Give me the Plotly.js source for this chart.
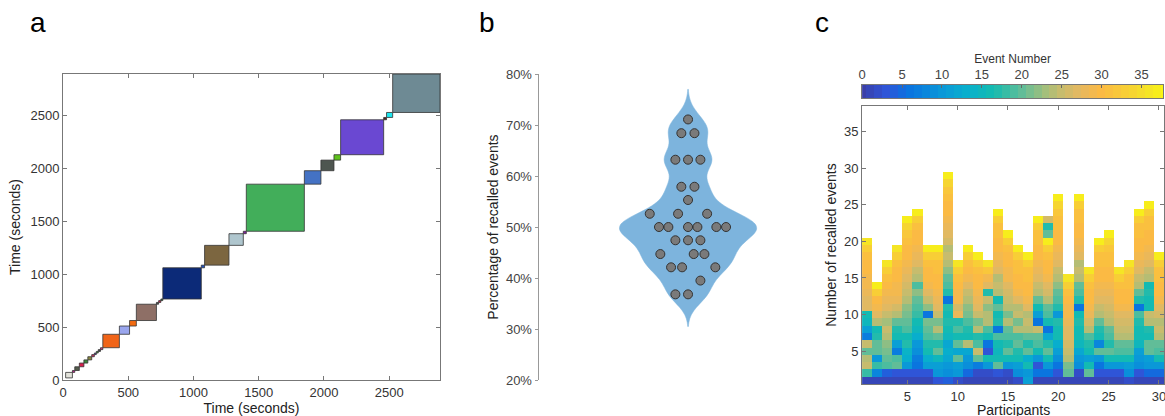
<!DOCTYPE html>
<html>
<head>
<meta charset="utf-8">
<script src="https://cdn.plot.ly/plotly-3.0.1.min.js"></script>
<style>
html,body{margin:0;padding:0;background:#fff;}
#chart{width:1165px;height:416px;}
</style>
</head>
<body>
<div id="chart"></div>
<script>
// ---------- Panel a: event boundaries (seconds) ----------
const eventStart = [20, 72, 90, 125, 160, 190, 220, 240, 255, 270, 287, 305, 432, 510, 562, 716, 733, 750, 765, 1060, 1085, 1272, 1382, 1405, 1850, 1977, 2077, 2128, 2458, 2480, 2527];
const eventEnd   = [72, 90, 125, 160, 190, 220, 240, 255, 270, 287, 305, 432, 510, 562, 716, 733, 750, 765, 1060, 1085, 1272, 1382, 1405, 1850, 1977, 2077, 2128, 2458, 2480, 2527, 2890];
const eventColors = ['#E2E2DA', '#C0208A', '#545C4C', '#D4204C', '#3A8A3A', '#8A8A40', '#D03060', '#6040A0', '#40A040', '#444444', '#E03080',
  '#F06418', '#9AA6EE', '#F26A10', '#8E6F66', '#505050', '#D42050', '#2E6A3A', '#0C2A78', '#2050C0', '#7C6640', '#AFC6CE', '#8020A0',
  '#42AE5A', '#4472C4', '#4E5650', '#5EC21C', '#6A48D2', '#502020', '#1EE6EE', '#6E8A94'];
const timeTicks = [0, 500, 1000, 1500, 2000, 2500];

// ---------- Panel b: percentage of recalled events per participant ----------
const pointValues = [71.1, 68.4, 68.4, 63.2, 63.2, 63.2, 57.9, 57.9, 55.3, 52.6, 52.6, 52.6,
  50, 50, 50, 50, 50, 50, 47.4, 47.4, 47.4, 44.7, 44.7, 44.7, 42.1, 42.1, 42.1, 39.5, 36.8, 36.8];
const pointJitter = [0, -0.045, 0.043, -0.085, 0, 0.083, -0.045, 0.043, 0, -0.257, -0.067, 0.128,
  -0.195, -0.132, 0, 0.063, 0.19, 0.255, -0.085, 0, 0.083, -0.186, 0.038, 0.11, -0.114, -0.04, 0.183, 0.083, -0.085, 0];
const percentTicks = [20, 30, 40, 50, 60, 70, 80];
const percentLabels = ['20%', '30%', '40%', '50%', '60%', '70%', '80%'];
const violinSpan = [30.5, 77];

// ---------- Panel c: event number recalled at each recall position ----------
const participants = [1,2,3,4,5,6,7,8,9,10,11,12,13,14,15,16,17,18,19,20,21,22,23,24,25,26,27,28,29,30];
const recallPositions = [1,2,3,4,5,6,7,8,9,10,11,12,13,14,15,16,17,18,19,20,21,22,23,24,25,26,27,28,29,30,31,32,33,34,35,36,37,38];
const colorLevels = [0,1,2,3,4,5,6,7,8,9,10,11,12,13,14,15,16,17,18,19,20,21,22,23,24,25,26,27,28,29,30,31,32,33,34,35,36,37,38];
const colorbarTicks = [0, 5, 10, 15, 20, 25, 30, 35];
const participantTicks = [5, 10, 15, 20, 25, 30];
const recallTicks = [5, 10, 15, 20, 25, 30, 35];
const recalledEvents = [
  [1, 18, 25, 24, 20, 25, 7, 11, 15, 16, 27, 27, 28, 29, 29, 30, 30, 31, 33, 36],
  [1, 8, 18, 10, 20, 20, 17, 16, 24, 27, 29, 30, 33, 37],
  [1, 4, 19, 20, 21, 22, 24, 25, 23, 25, 27, 28, 29, 30, 31, 33, 36],
  [1, 3, 20, 19, 7, 11, 16, 17, 20, 24, 26, 28, 29, 29, 30, 30, 31, 33, 36],
  [1, 3, 10, 13, 14, 17, 16, 19, 20, 21, 22, 24, 25, 26, 27, 28, 29, 30, 30, 31, 32, 34, 37],
  [1, 3, 6, 7, 9, 10, 13, 15, 16, 18, 19, 20, 22, 19, 24, 25, 27, 28, 29, 30, 30, 31, 33, 37],
  [1, 3, 11, 13, 16, 17, 19, 20, 21, 6, 22, 25, 27, 29, 30, 30, 31, 33, 37],
  [3, 10, 11, 15, 20, 17, 20, 24, 21, 25, 27, 28, 29, 30, 30, 31, 31, 33, 37],
  [4, 9, 10, 12, 13, 12, 15, 16, 17, 16, 17, 6, 17, 19, 20, 22, 24, 25, 24, 26, 27, 28, 29, 30, 30, 31, 32, 34, 37],
  [2, 10, 11, 20, 12, 20, 16, 19, 17, 28, 26, 29, 29, 30, 31, 33, 36],
  [1, 5, 9, 10, 12, 24, 16, 17, 19, 21, 22, 24, 25, 27, 29, 30, 31, 33, 37],
  [1, 2, 7, 20, 25, 19, 17, 24, 21, 25, 27, 28, 29, 30, 30, 31, 33, 37],
  [1, 2, 10, 16, 3, 6, 16, 19, 24, 24, 22, 25, 17, 27, 29, 32, 36],
  [1, 3, 20, 16, 15, 16, 19, 6, 17, 16, 20, 16, 24, 25, 24, 27, 28, 29, 30, 30, 31, 31, 33, 37],
  [1, 2, 10, 16, 20, 17, 19, 20, 24, 21, 24, 25, 26, 27, 29, 29, 30, 30, 31, 33, 37],
  [2, 9, 11, 16, 17, 20, 19, 24, 21, 25, 24, 27, 29, 30, 30, 31, 31, 33, 37],
  [11, 10, 16, 13, 20, 17, 20, 24, 25, 24, 27, 29, 30, 30, 31, 31, 33, 37],
  [1, 6, 3, 10, 16, 19, 20, 25, 6, 11, 16, 20, 24, 25, 27, 28, 29, 30, 30, 31, 31, 33, 37],
  [1, 6, 10, 16, 20, 17, 12, 6, 16, 19, 20, 24, 26, 27, 29, 30, 30, 31, 33, 37, 20, 17, 26],
  [1, 3, 6, 9, 11, 13, 16, 16, 17, 10, 17, 19, 20, 22, 24, 25, 27, 28, 29, 30, 30, 31, 31, 32, 34, 37],
  [1, 20, 21, 24, 25, 26, 27, 27, 28, 29, 29, 30, 31, 33, 36],
  [1, 2, 9, 10, 12, 15, 16, 16, 17, 16, 6, 17, 19, 20, 24, 25, 24, 27, 28, 29, 30, 30, 31, 31, 33, 37],
  [1, 20, 16, 11, 16, 17, 19, 24, 26, 28, 29, 30, 30, 31, 33, 36],
  [1, 3, 6, 10, 20, 8, 16, 17, 20, 24, 25, 27, 28, 29, 30, 30, 31, 31, 33, 37],
  [1, 3, 10, 16, 20, 17, 19, 20, 24, 25, 26, 27, 28, 29, 30, 30, 31, 31, 32, 34, 37],
  [1, 3, 10, 16, 19, 20, 24, 25, 26, 27, 29, 30, 30, 31, 33, 36],
  [2, 9, 11, 16, 19, 20, 24, 25, 26, 27, 29, 30, 30, 31, 31, 33, 36],
  [1, 3, 9, 10, 11, 15, 16, 16, 17, 19, 6, 17, 20, 24, 25, 27, 28, 29, 30, 30, 31, 31, 33, 37],
  [1, 5, 10, 11, 20, 20, 16, 17, 24, 25, 16, 16, 17, 16, 24, 25, 27, 28, 29, 30, 30, 31, 31, 33, 37],
  [1, 5, 10, 16, 19, 20, 24, 25, 24, 26, 27, 29, 30, 30, 31, 31, 33, 37]
];

// parula-like colour scale
const parula = [
  [0.00, '#3A3FA8'], [0.08, '#2F55D8'], [0.15, '#0A72E0'], [0.27, '#0A9AD8'],
  [0.35, '#08B0CC'], [0.43, '#14BBB0'], [0.52, '#5CBD9A'], [0.60, '#A0BF7C'],
  [0.66, '#C8BC6C'], [0.72, '#E6B860'], [0.79, '#FBBA44'], [0.87, '#F8CE36'],
  [0.93, '#F4E02A'], [1.00, '#F9F514']
];

const z = recallPositions.map(r => participants.map((p, i) => {
  const v = recalledEvents[i][r - 1];
  return v === undefined ? null : v;
}));

const FONT = 'Liberation Sans, Arial, Helvetica, sans-serif';
const tickFont = {family: FONT, size: 13, color: '#333'};
const titleFont = {family: FONT, size: 14, color: '#222'};

const shapes = eventStart.map((s, i) => ({
  type: 'rect', xref: 'x', yref: 'y',
  x0: s, x1: eventEnd[i], y0: s, y1: eventEnd[i],
  fillcolor: eventColors[i], line: {color: '#333', width: 0.8}
}));

const traces = [
  {type: 'scatter', x: [eventStart[0]], y: [eventStart[0]], mode: 'markers',
   marker: {opacity: 0}, xaxis: 'x', yaxis: 'y', hoverinfo: 'skip', showlegend: false},
  {type: 'violin', y: pointValues, x0: 0, xaxis: 'x2', yaxis: 'y2',
   points: false, bandwidth: 2.3, width: 0.92, spanmode: 'manual', span: violinSpan,
   fillcolor: '#7DB4DD', line: {color: '#7DB4DD', width: 0.5},
   box: {visible: false}, meanline: {visible: false}, showlegend: false, hoverinfo: 'y'},
  {type: 'scatter', x: pointJitter, y: pointValues, xaxis: 'x2', yaxis: 'y2', mode: 'markers',
   marker: {size: 9, color: '#7A7A7A', line: {color: '#333', width: 1}}, showlegend: false},
  {type: 'heatmap', x: participants, y: recallPositions, z: z, xaxis: 'x3', yaxis: 'y3',
   colorscale: parula, zmin: 0, zmax: 38, showscale: false, hoverongaps: false},
  {type: 'heatmap', x: colorLevels, y: [0.5], z: [colorLevels], xaxis: 'x4', yaxis: 'y4',
   colorscale: parula, zmin: 0, zmax: 38, showscale: false, hoverinfo: 'skip'}
];

const boxAxis = {
  showline: true, mirror: 'ticks', linecolor: '#777', linewidth: 1,
  ticks: 'inside', ticklen: 4, tickcolor: '#777',
  showgrid: false, zeroline: false, tickfont: tickFont, automargin: false,
  ticklabeloverflow: 'allow'
};

const letterFont = {family: FONT, size: 28, color: '#000'};

const layout = {
  width: 1165, height: 416,
  margin: {l: 0, r: 0, t: 0, b: 0},
  paper_bgcolor: '#fff', plot_bgcolor: '#fff',
  font: {family: FONT},
  showlegend: false,
  shapes: shapes,
  xaxis: Object.assign({}, boxAxis, {domain: [0.0541, 0.3777], range: [0, 2890], tickvals: timeTicks,
    anchor: 'y', title: {text: 'Time (seconds)', font: titleFont, standoff: 2}}),
  yaxis: Object.assign({}, boxAxis, {domain: [0.0865, 0.822], range: [0, 2890], tickvals: timeTicks,
    anchor: 'x', title: {text: 'Time (seconds)', font: titleFont, standoff: 6}}),
  xaxis2: {domain: [0.4627, 0.7185], range: [-1, 1], visible: false, anchor: 'y2'},
  yaxis2: {domain: [0.0865, 0.822], range: [20, 80], tickmode: 'array', tickvals: percentTicks, ticktext: percentLabels,
    anchor: 'x2', showline: true, linecolor: '#999', linewidth: 1.5, ticks: 'outside', ticklen: 3,
    tickcolor: '#999', showgrid: false, zeroline: false, tickfont: {family: FONT, size: 13, color: '#444'},
    automargin: false, title: {text: 'Percentage of recalled events', font: titleFont, standoff: 4}},
  xaxis3: Object.assign({}, boxAxis, {domain: [0.740, 0.9991], range: [0.5, 30.5], tickvals: participantTicks,
    anchor: 'y3'}),
  yaxis3: Object.assign({}, boxAxis, {domain: [0.0769, 0.745], range: [0.5, 38.5], tickvals: recallTicks,
    anchor: 'x3', title: {text: 'Number of recalled events', font: titleFont, standoff: 4}}),
  xaxis4: {domain: [0.740, 0.9983], range: [0, 37.7], tickvals: colorbarTicks, side: 'top', anchor: 'y4',
    showline: true, mirror: true, linecolor: '#777', linewidth: 1, ticks: 'inside', ticklen: 3, tickcolor: '#666',
    showgrid: false, zeroline: false, tickfont: {family: FONT, size: 13, color: '#444'}, automargin: false,
    ticklabeloverflow: 'allow',
    title: {text: 'Event Number', font: {family: FONT, size: 12, color: '#333'}, standoff: 0}},
  yaxis4: {domain: [0.7637, 0.7957], range: [0, 1], anchor: 'x4', showline: true, mirror: true,
    linecolor: '#777', linewidth: 1, showticklabels: false, ticks: '', showgrid: false, zeroline: false},
  annotations: [
    {text: 'a', x: 0.0326, y: 0.947, xref: 'paper', yref: 'paper', xanchor: 'center', yanchor: 'middle', showarrow: false, font: letterFont},
    {text: 'b', x: 0.418, y: 0.947, xref: 'paper', yref: 'paper', xanchor: 'center', yanchor: 'middle', showarrow: false, font: letterFont},
    {text: 'c', x: 0.7056, y: 0.947, xref: 'paper', yref: 'paper', xanchor: 'center', yanchor: 'middle', showarrow: false, font: letterFont},
    {text: 'Participants', x: 0.8696, y: -0.0005, xref: 'paper', yref: 'paper', xanchor: 'center', yanchor: 'bottom',
     showarrow: false, font: titleFont, yshift: -4}
  ]
};

Plotly.newPlot('chart', traces, layout, {displayModeBar: false, staticPlot: true});
</script>
</body>
</html>
